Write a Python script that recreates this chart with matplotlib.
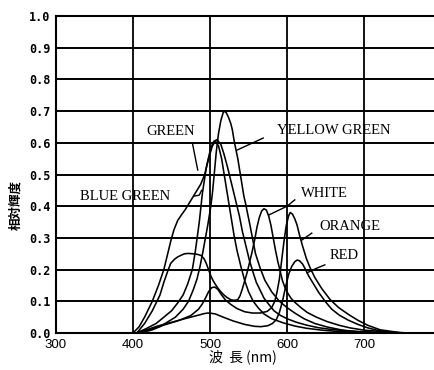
import matplotlib.pyplot as plt

# ======================
# DATI
# ======================
bg_wl  = [400, 408, 415, 425, 433, 440, 445, 449, 453, 458, 463, 468, 473, 478, 483, 488, 493,
          498, 503, 507, 511, 515, 519, 523, 527, 531, 535, 540, 545, 550, 556, 563, 570, 580,
          595, 610, 625, 645, 665, 690, 720]
bg_val = [0.0, 0.02, 0.05, 0.10, 0.15, 0.20, 0.25, 0.29, 0.325, 0.355, 0.373, 0.39, 0.41, 0.43,
          0.45, 0.47, 0.50, 0.55, 0.59, 0.605, 0.59, 0.55, 0.49, 0.43, 0.37, 0.31, 0.26, 0.21,
          0.165, 0.13, 0.10, 0.078, 0.06, 0.045, 0.032, 0.022, 0.015, 0.009, 0.005, 0.002, 0.0]

gr_wl  = [405, 418, 430, 440, 450, 458, 465, 471, 477, 481, 486, 490, 495, 501, 505, 509, 514,
          518, 523, 528, 533, 538, 542, 547, 551, 556, 560, 565, 570, 577, 583, 591, 600, 612,
          625, 640, 655, 675, 700, 750]
gr_val = [0.0, 0.015, 0.03, 0.05, 0.07, 0.095, 0.12, 0.155, 0.20, 0.26, 0.35, 0.44, 0.52, 0.585,
          0.605, 0.61, 0.595, 0.565, 0.52, 0.47, 0.42, 0.37, 0.32, 0.27, 0.23, 0.19, 0.16,
          0.135, 0.11, 0.088, 0.07, 0.056, 0.045, 0.034, 0.025, 0.017, 0.012, 0.007, 0.004, 0.0]

yg_wl  = [410, 425, 435, 445, 455, 465, 472, 478, 483, 487, 491, 494, 497, 499, 501, 503, 505,
          508, 511, 514, 517, 519, 521, 524, 527, 529, 531, 533, 536, 538, 540, 542, 544, 546,
          548, 551, 555, 559, 565, 571, 580, 590, 600, 610, 622, 636, 652, 670, 690, 710]
yg_val = [0.0, 0.01, 0.02, 0.035, 0.05, 0.075, 0.10, 0.135, 0.17, 0.21, 0.26, 0.30, 0.34, 0.37,
          0.40, 0.44, 0.49, 0.57, 0.63, 0.67, 0.695, 0.70, 0.695, 0.68, 0.66, 0.64, 0.61, 0.585,
          0.55, 0.52, 0.49, 0.46, 0.43, 0.41, 0.385, 0.35, 0.30, 0.25, 0.205, 0.167, 0.13, 0.10,
          0.08, 0.063, 0.045, 0.03, 0.019, 0.01, 0.004, 0.0]

wh_wl  = [405, 410, 415, 420, 425, 430, 435, 440, 445, 449, 454, 458, 463, 467, 472, 477, 482,
          488, 492, 495, 498, 501, 504, 507, 510, 514, 518, 522, 527, 531, 536, 539, 542, 545,
          548, 551, 554, 558, 561, 564, 567, 570, 573, 576, 579, 582, 585, 588, 591, 594, 597,
          601, 605, 610, 618, 626, 638, 652, 668, 682, 700, 730, 760]
wh_val = [0.0, 0.015, 0.03, 0.05, 0.07, 0.095, 0.12, 0.16, 0.195, 0.22, 0.233, 0.24, 0.246,
          0.25, 0.251, 0.25, 0.249, 0.245, 0.235, 0.22, 0.20, 0.18, 0.165, 0.153, 0.142, 0.13,
          0.12, 0.112, 0.105, 0.103, 0.105, 0.118, 0.14, 0.165, 0.19, 0.22, 0.25, 0.295, 0.335,
          0.365, 0.385, 0.392, 0.388, 0.37, 0.34, 0.30, 0.26, 0.225, 0.195, 0.165, 0.145, 0.125,
          0.11, 0.097, 0.08, 0.065, 0.05, 0.036, 0.024, 0.016, 0.009, 0.003, 0.0]

or_wl  = [408, 420, 440, 460, 475, 485, 490, 494, 498, 502, 506, 510, 515, 520, 527, 535, 545,
          555, 565, 574, 580, 584, 587, 590, 593, 596, 599, 602, 604, 607, 610, 613, 616, 620,
          625, 630, 636, 645, 656, 667, 680, 692, 705, 721, 750]
or_val = [0.0, 0.01, 0.025, 0.04, 0.055, 0.075, 0.092, 0.11, 0.13, 0.143, 0.145, 0.138, 0.12,
          0.104, 0.09, 0.077, 0.067, 0.063, 0.063, 0.068, 0.08, 0.10, 0.13, 0.17, 0.23, 0.29,
          0.34, 0.37, 0.38, 0.375, 0.36, 0.34, 0.31, 0.275, 0.235, 0.205, 0.175, 0.14, 0.105,
          0.08, 0.058, 0.04, 0.024, 0.01, 0.0]

rd_wl  = [403, 420, 432, 449, 467, 486, 492, 497, 502, 507, 517, 530, 545, 558, 566, 575, 581,
          586, 590, 594, 598, 602, 606, 610, 613, 616, 620, 624, 628, 635, 641, 650, 658, 668,
          679, 692, 705, 720, 740]
rd_val = [0.0, 0.012, 0.022, 0.033, 0.045, 0.057, 0.061, 0.063, 0.062, 0.06, 0.05, 0.038, 0.027,
          0.021, 0.02, 0.023, 0.03, 0.042, 0.065, 0.10, 0.145, 0.185, 0.21, 0.225, 0.23, 0.228,
          0.218, 0.2, 0.18, 0.152, 0.128, 0.098, 0.075, 0.056, 0.041, 0.027, 0.016, 0.007, 0.0]

curves = [(bg_wl, bg_val), (gr_wl, gr_val), (yg_wl, yg_val),
          (wh_wl, wh_val), (or_wl, or_val), (rd_wl, rd_val)]

x_ticks = [300, 400, 500, 600, 700]
y_ticks = [0.0, 0.1, 0.2, 0.3, 0.4, 0.5, 0.6, 0.7, 0.8, 0.9, 1.0]

# etichette: testo, posizione testo, punti della linea guida
labels = [
    ("BLUE GREEN",   (390, 0.43),  [(480, 0.432), (486, 0.435), (489, 0.45)]),
    ("GREEN",        (449, 0.637), [(477, 0.60), (484, 0.514)]),
    ("YELLOW GREEN", (660, 0.64),  [(569, 0.615), (535, 0.577)]),
    ("WHITE",        (649, 0.44),  [(610, 0.42), (600, 0.40), (576, 0.372)]),
    ("ORANGE",       (682, 0.337), [(632, 0.315), (619, 0.293)]),
    ("RED",          (674, 0.243), [(649, 0.215), (639, 0.205), (626, 0.19)]),
]

# ======================
# GRAFICO
# ======================
fig = plt.figure(figsize=(4.35, 3.7), dpi=100)
ax = fig.add_axes([56 / 435, 1 - 333 / 370, (435 - 56) / 435, (333 - 16) / 370])

for v in x_ticks[1:]:
    ax.axvline(v, color="black", lw=1.3, zorder=1)
for v in y_ticks[1:]:
    ax.axhline(v, color="black", lw=1.4, zorder=1)

for wl, val in curves:
    ax.plot(wl, val, color="black", lw=1.15, zorder=2)

for text, pos, lead in labels:
    ax.text(pos[0], pos[1], text, ha="center", va="center", fontsize=10.5,
            family="Liberation Serif", zorder=3)
    ax.plot([p[0] for p in lead], [p[1] for p in lead], color="black", lw=1.0, zorder=2)

ax.set_xlim(300, 792)
ax.set_ylim(0, 1.0)
ax.set_xticks(x_ticks)
ax.set_yticks(y_ticks)
ax.set_xticklabels([str(t) for t in x_ticks], family="Liberation Sans", fontsize=9.5)
ax.set_yticklabels([f"{t:.1f}" for t in y_ticks], family="DejaVu Sans Mono",
                   fontsize=8.5, fontweight="bold")
ax.tick_params(length=0, pad=4)
ax.spines["right"].set_visible(False)
for s in ["left", "top", "bottom"]:
    ax.spines[s].set_linewidth(1.5)

fig.text(16 / 435, 1 - 205 / 370, "相対輝度", rotation=90, ha="center", va="center",
         fontsize=9, fontweight="bold", family=["Noto Sans CJK JP", "DejaVu Sans"])
fig.text(243 / 435, 1 - 357 / 370, "波  長 (nm)", ha="center", va="center",
         fontsize=10, family=["Noto Sans CJK JP", "DejaVu Sans"])

fig.savefig("out.png", dpi=100)
